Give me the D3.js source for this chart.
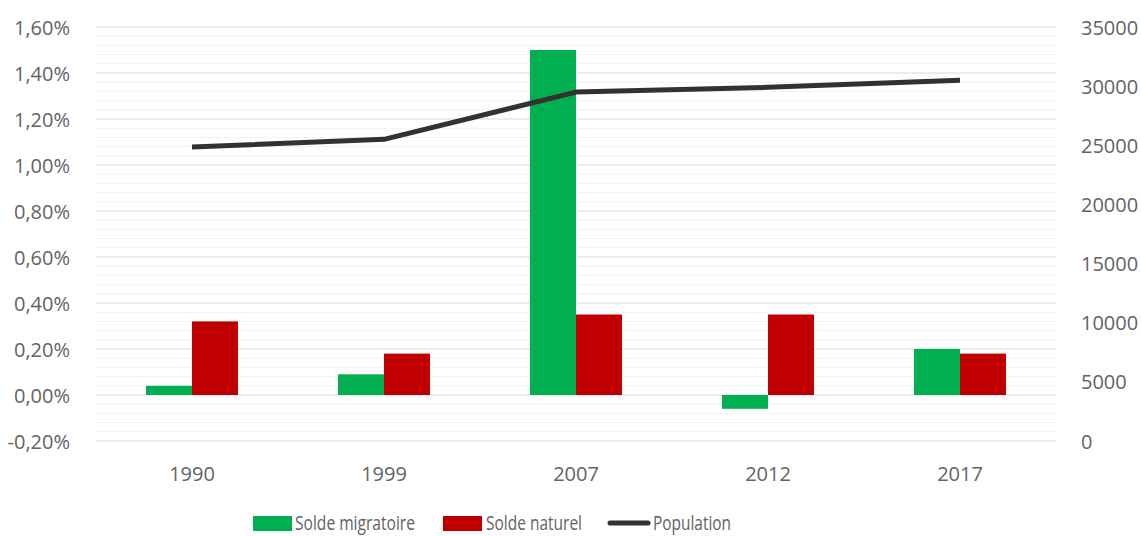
<!DOCTYPE html>
<html>
<head>
<meta charset="utf-8">
<script src="https://cdn.jsdelivr.net/npm/d3@7"></script>
<style>
  body { margin: 0; background: #fff; }
  text { font-family: "Open Sans", sans-serif; fill: #636363; }
</style>
</head>
<body>
<svg id="chart" width="1141" height="536"></svg>
<script>
// data
let years = ["1990", "1999", "2007", "2012", "2017"];
let soldeMigratoire = [0.04, 0.09, 1.50, -0.06, 0.20];
let soldeNaturel = [0.32, 0.18, 0.35, 0.35, 0.18];
let population = [24850, 25500, 29500, 29900, 30500];
let leftTicks = [-0.2, 0, 0.2, 0.4, 0.6, 0.8, 1.0, 1.2, 1.4, 1.6];
let rightTicks = [0, 5000, 10000, 15000, 20000, 25000, 30000, 35000];

let svg = d3.select("#chart");
let plotLeft = 96, plotRight = 1056, plotTop = 27, plotBottom = 441;

let x = d3.scaleBand().domain(years).range([plotLeft, plotRight]).paddingInner(0).paddingOuter(0);
let y = d3.scaleLinear().domain([-0.2, 1.6]).range([plotBottom, plotTop]);
let y2 = d3.scaleLinear().domain([0, 35000]).range([plotBottom, plotTop]);

// minor gridlines every 0.04%
let minor = d3.range(0, 46).map(i => -0.2 + i * 0.04).filter(v => Math.abs(Math.round(v / 0.2) * 0.2 - v) > 1e-6);
svg.append("g").selectAll("line").data(minor).enter().append("line")
    .attr("x1", plotLeft).attr("x2", plotRight)
    .attr("y1", d => y(d)).attr("y2", d => y(d))
    .attr("stroke", "#f2f2f2").attr("stroke-width", 1);

svg.append("g").selectAll("line").data(leftTicks).enter().append("line")
    .attr("x1", plotLeft).attr("x2", plotRight)
    .attr("y1", d => y(d)).attr("y2", d => y(d))
    .attr("stroke", "#d9d9d9").attr("stroke-width", 1.2);

// axes
let fmt = d => d3.format(".2f")(d).replace(".", ",").replace("−", "-") + "%";
let yAxis = svg.append("g").attr("transform", `translate(${plotLeft - 23},0)`)
    .call(d3.axisLeft(y).tickValues(leftTicks).tickFormat(fmt).tickSize(0));
yAxis.select(".domain").remove();
yAxis.selectAll("text").attr("font-size", 20).attr("dx", 0).attr("dy", "0.35em");

let y2Axis = svg.append("g").attr("transform", `translate(${plotRight + 22},0)`)
    .call(d3.axisRight(y2).tickValues(rightTicks).tickFormat(d3.format("d")).tickSize(0));
y2Axis.select(".domain").remove();
y2Axis.selectAll("text").attr("font-size", 20).attr("dy", "0.35em");

let xAxis = svg.append("g").attr("transform", `translate(0,${plotBottom + 30})`)
    .call(d3.axisBottom(x).tickSize(0));
xAxis.select(".domain").remove();
xAxis.selectAll("text").attr("font-size", 20).attr("dy", "0.35em");

// bars
let barW = 46;
let bars = svg.append("g");
bars.selectAll(".mig").data(years).enter().append("rect")
    .attr("x", d => x(d) + x.bandwidth() / 2 - barW)
    .attr("width", barW)
    .attr("y", (d, i) => y(Math.max(0, soldeMigratoire[i])))
    .attr("height", (d, i) => Math.abs(y(soldeMigratoire[i]) - y(0)))
    .attr("fill", "#00b050");
bars.selectAll(".nat").data(years).enter().append("rect")
    .attr("x", d => x(d) + x.bandwidth() / 2)
    .attr("width", barW)
    .attr("y", (d, i) => y(Math.max(0, soldeNaturel[i])))
    .attr("height", (d, i) => Math.abs(y(soldeNaturel[i]) - y(0)))
    .attr("fill", "#c00000");

// population line
let line = d3.line()
    .x((d, i) => x(years[i]) + x.bandwidth() / 2)
    .y(d => y2(d));
svg.append("path").datum(population)
    .attr("d", line)
    .attr("fill", "none")
    .attr("stroke", "#333132")
    .attr("stroke-width", 5)
    .attr("stroke-linejoin", "round")
    .attr("stroke-linecap", "butt");

// legend
let legend = svg.append("g");
legend.append("rect").attr("x", 253).attr("y", 516).attr("width", 39).attr("height", 15).attr("fill", "#00b050");
legend.append("text").attr("x", 295).attr("y", 530).attr("font-size", 20)
    .attr("textLength", 120).attr("lengthAdjust", "spacingAndGlyphs").text("Solde migratoire");
legend.append("rect").attr("x", 443).attr("y", 516).attr("width", 39).attr("height", 15).attr("fill", "#c00000");
legend.append("text").attr("x", 486).attr("y", 530).attr("font-size", 20)
    .attr("textLength", 96).attr("lengthAdjust", "spacingAndGlyphs").text("Solde naturel");
legend.append("line").attr("x1", 610).attr("x2", 648).attr("y1", 523).attr("y2", 523)
    .attr("stroke", "#333132").attr("stroke-width", 5).attr("stroke-linecap", "round");
legend.append("text").attr("x", 653).attr("y", 530).attr("font-size", 20)
    .attr("textLength", 78).attr("lengthAdjust", "spacingAndGlyphs").text("Population");
</script>
</body>
</html>
